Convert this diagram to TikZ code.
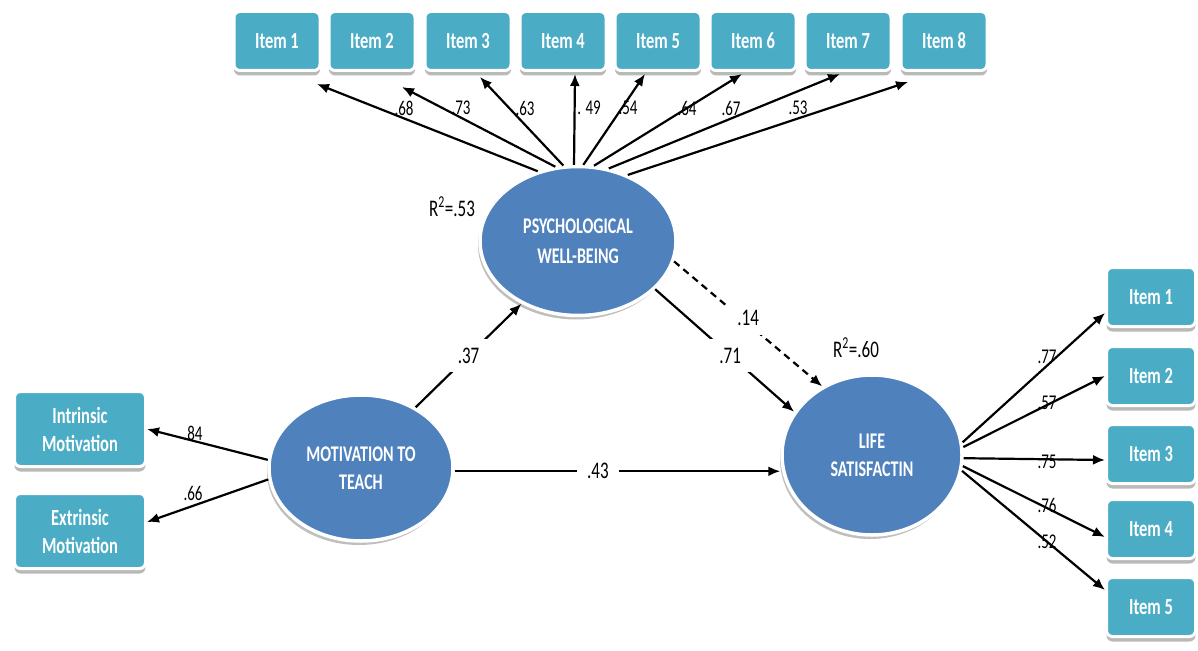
\documentclass[tikz,border=0pt]{standalone}
\usepackage{fontspec}
\setmainfont{Carlito}
\usepackage{graphicx}
\usetikzlibrary{arrows.meta,shapes.geometric,shadows}

\definecolor{itemblue}{HTML}{4BACC6}
\definecolor{latentblue}{HTML}{4F81BD}
\newcommand\tall[1]{\scalebox{1}[1.4]{#1}}

\tikzset{
	item/.style={rectangle, rounded corners=6pt, fill=itemblue, draw=white, line width=3pt,
		minimum width=86pt, minimum height=59pt, inner sep=0pt, text=white, align=center,
		font=\fontsize{16.5}{28}\selectfont\bfseries,
		drop shadow={shadow xshift=0pt, shadow yshift=-5pt, fill=gray!55, opacity=1}},
	latent/.style={ellipse, fill=latentblue, draw=white, line width=3.5pt, inner sep=0pt,
		text=white, align=center, font=\fontsize{16}{28}\selectfont\bfseries,
		drop shadow={shadow xshift=-2pt, shadow yshift=-4pt, fill=gray!50, opacity=1}},
	link/.style={-{Latex[length=12pt,width=10pt]}, line width=2.2pt},
	coef/.style={font=\fontsize{15}{17}\selectfont, inner sep=1pt},
	gap/.style={fill=white, inner xsep=10pt, inner ysep=9pt, font=\fontsize{17}{19}\selectfont},
	rsq/.style={font=\fontsize{17}{19}\selectfont, inner sep=1pt}
}

\begin{document}
\begin{tikzpicture}[x=1pt, y=-1pt]
\useasboundingbox (0,0) rectangle (1198,650);

\node[latent, minimum width=196pt, minimum height=149pt] (pwb) at (578,241)
	{\tall{PSYCHOLOGICAL}\\[2pt]\tall{WELL-BEING}};
\node[latent, minimum width=184pt, minimum height=146pt] (mtt) at (361,468)
	{\tall{MOTIVATION TO}\\\tall{TEACH}};
\node[latent, minimum width=180pt, minimum height=160pt] (ls) at (872,455)
	{\tall{LIFE}\\\tall{SATISFACTIN}};

\foreach \i/\x in {1/277,2/372,3/468,4/563,5/658,6/753,7/848,8/944}
	\node[item] (p\i) at (\x,41) {\tall{Item \i}};
\foreach \i/\y in {1/297,2/376,3/454,4/529,5/607}
	\node[item, minimum width=89pt] (s\i) at (1151,\y) {\tall{Item \i}};
\node[item, minimum width=131pt, minimum height=75pt] (im) at (80,429)
	{\tall{Intrinsic}\\\tall{Motivation}};
\node[item, minimum width=131pt, minimum height=75pt] (em) at (80,531)
	{\tall{Extrinsic}\\\tall{Motivation}};

\foreach \i/\a/\dx/\dy in {1/120/40/-12, 2/107.5/30/-15, 3/101/12/-5, 4/93/12/-2,
		5/86.5/-13/-2, 6/78/-11/-2, 7/67/-8/-2, 8/53/-36/-10}
	\draw[link] (pwb.\a) -- ([xshift=\dx pt, yshift=\dy pt]p\i.south);
\foreach \t/\x in {.68/404, .73/461, .63/525, . 49/589, .54/628, .64/687, .67/731, .53/798}
	\node[coef] (w\x) at (\x,108) {\tall{\t}};

\foreach \i/\a/\dy in {1/8/-16, 2/5/0, 3/-2/-6, 4/-7/-8, 5/-10/17}
	\draw[link] (ls.\a) -- ([yshift=\dy pt]s\i.west);
\foreach \t/\y in {.77/357, .57/403, .75/462, .76/505, .52/542}
	\node[coef] (v\y) at (1047,\y) {\tall{\t}};

\draw[link] (mtt.175) -- (im.east);
\draw[link] (mtt.187) -- ([yshift=9pt]em.east);
\node[coef] (c84) at (193,433) {\tall{.84}};
\node[coef] (c66) at (193,493) {\tall{.66}};

\draw[link] (mtt.48) -- node[gap] (g37) {\tall{.37}} (pwb.228);
\draw[link] (mtt.-2) -- node[gap, pos=.44] (g43) {\tall{.43}} (ls.west |- mtt.-2);
\draw[link] (pwb.-32) -- node[gap, pos=.54] (g71) {\tall{.71}} (ls.151);
\draw[link, dash pattern=on 7pt off 5pt] (pwb.-12) -- node[gap, pos=.5, yshift=6pt] (g14) {\tall{.14}} (ls.126);

\node[rsq] (r53) at (452,207) {\tall{R\textsuperscript{2}=.53}};
\node[rsq] (r60) at (856,348) {\tall{R\textsuperscript{2}=.60}};
\end{tikzpicture}
\end{document}
